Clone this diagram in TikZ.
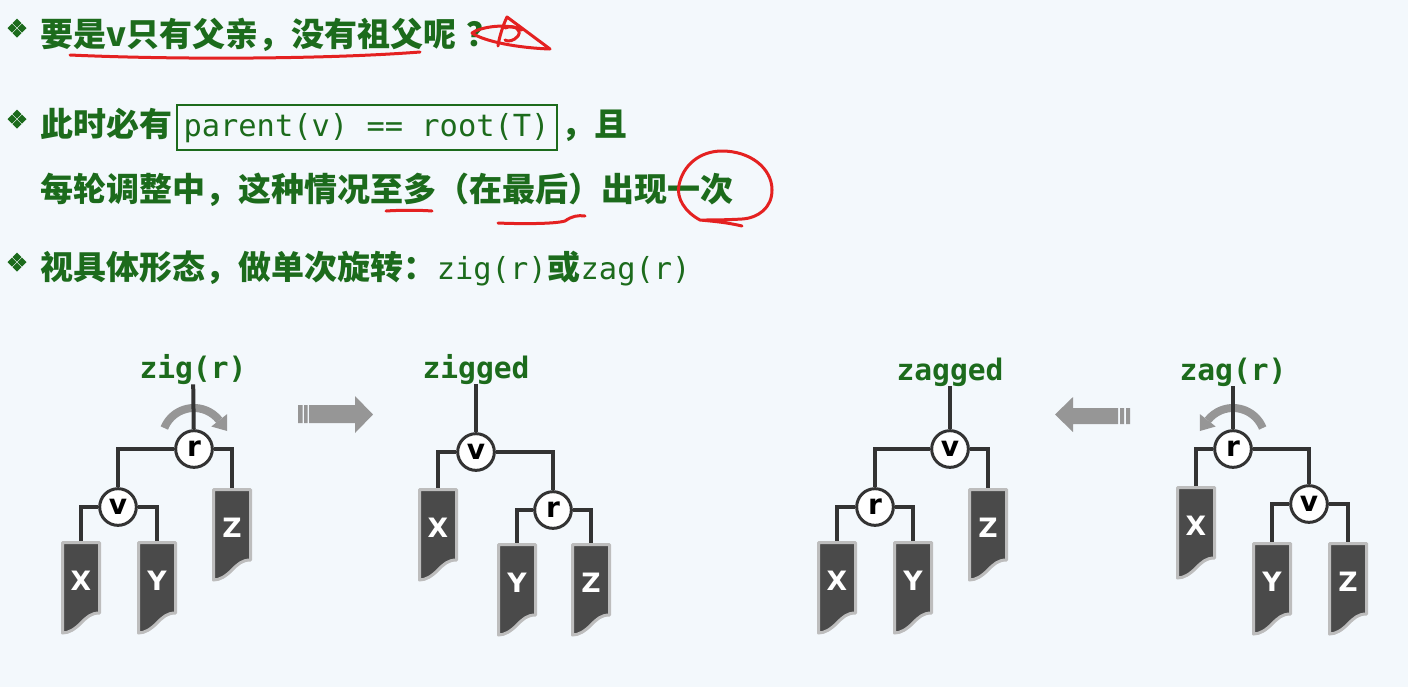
\documentclass[tikz,border=0pt]{standalone}
\usepackage{fontspec}
\newfontfamily\cjk{Noto Sans CJK SC}
\newfontfamily\mono{DejaVu Sans Mono}
\newfontfamily\lettr{DejaVu Sans}
\usetikzlibrary{positioning,arrows.meta}
\definecolor{bgblue}{HTML}{F3F8FC}
\definecolor{tgreen}{HTML}{1C6B1C}
\definecolor{treeline}{HTML}{333333}
\definecolor{stfill}{HTML}{4A4A4A}
\definecolor{stborder}{HTML}{BDBDBD}
\definecolor{rotgray}{HTML}{969696}
\definecolor{pen}{HTML}{E42121}
\tikzset{
	txt/.style={inner sep=0pt,text=tgreen,font=\cjk\bfseries\fontsize{24.75pt}{30pt}\selectfont},
	code/.style={inner sep=0pt,text=tgreen,font=\mono\fontsize{22.8pt}{26pt}\selectfont},
	codebox/.style={code,draw=tgreen,line width=1.5pt,minimum width=285pt,minimum height=33.75pt},
	oplabel/.style={inner sep=0pt,text=tgreen,font=\mono\bfseries\fontsize{22.2pt}{26pt}\selectfont},
	tnode/.style={circle,draw=treeline,line width=2.25pt,fill=white,minimum size=27.5pt,inner sep=0pt,font=\lettr\bfseries\fontsize{21pt}{21pt}\selectfont},
	edge/.style={draw=treeline,line width=3pt},
	subtree/.style={fill=stfill,draw=stborder,line width=2.25pt,line join=round},
	stletter/.style={inner sep=0pt,text=white,font=\lettr\bfseries\fontsize{20pt}{20pt}\selectfont},
	rot/.style={draw=rotgray,line width=6pt},
	ink/.style={draw=pen,line width=2.25pt,line cap=round,line join=round}
}
\newcommand\subtr[4]{%
	\draw[subtree] (#2+1.5,#3+1.5) -- (#2+38.5,#3+1.5) -- (#2+38.5,#3+72)
		.. controls (#2+30,#3+72) and (#2+26,#3+76) .. (#2+20,#3+82)
		.. controls (#2+14,#3+88) and (#2+8,#3+92) .. (#2+1.5,#3+92) -- cycle;
	\coordinate (#1) at (#2+20,#3);
	\node[stletter] (#1l) at (#2+20,#3+40) {#4};
}
\newcommand\bul[2]{%
	\foreach \dx/\dy in {-5/0,5/0,0/-5,0/5}
		\fill[tgreen] (#1+\dx,#2+\dy) +(-4.5,0) -- +(0,-4.5) -- +(4.5,0) -- +(0,4.5) -- cycle;
}
\begin{document}
\begin{tikzpicture}[x=0.75pt,y=-0.75pt]
	\path[fill=bgblue,use as bounding box] (0,0) rectangle (1408,687);
	% text
	\bul{17}{28}
	\node[txt,anchor=base west] (q1) at (40,46) {要是v只有父亲，没有祖父呢\hspace{8pt}？};
	\bul{17}{119}
	\node[txt,anchor=base west] (a1) at (40,136) {此时必有};
	\node[codebox,base right=2.25pt of a1] (cond) {parent(v) == root(T)};
	\node[txt,base right=3pt of cond] (a2) {，且};
	\node[txt,anchor=base west] (a3) at (40,201) {每轮调整中，这种情况至多（在最后）出现一次};
	\bul{17}{262}
	\node[txt,anchor=base west] (b1) at (40,279) {视具体形态，做单次旋转：};
	\node[code,base right=0pt of b1] (b2) {zig(r)};
	\node[txt,base right=0pt of b2] (b3) {或};
	\node[code,base right=0pt of b3] (b4) {zag(r)};
	% zig(r)
	\draw[rot] (194,440) ++(202:32) arc[start angle=202,end angle=322,radius=32];
	\fill[rotgray] (227.1,414.1) -- (227.2,431) -- (211.3,426.5) -- cycle;
	\node[oplabel,anchor=base] (lbl1) at (193,378) {zig(r)};
	\subtr{X1}{61}{541}{X}
	\subtr{Y1}{137}{541}{Y}
	\subtr{Z1}{212}{488}{Z}
	\node[tnode] (r1) at (194,449) {r};
	\node[tnode] (v1) at (118,507) {v};
	\draw[edge] (lbl1) -- (r1);
	\draw[edge] (r1.west) -| (v1.north);
	\draw[edge] (r1.east) -| (Z1);
	\draw[edge] (v1.west) -| (X1);
	\draw[edge] (v1.east) -| (Y1);
	\fill[rotgray] (309,405) -- (355,405) -- (355,396) -- (373,414.5) -- (355,433) -- (355,423) -- (309,423) -- cycle;
	\fill[rotgray] (298,405) rectangle (302.5,423) (304,405) rectangle (307.5,423);
	% zigged
	\node[oplabel,anchor=base] (lbl2) at (476,378) {zigged};
	\subtr{X2}{418}{488}{X}
	\subtr{Y2}{497}{543}{Y}
	\subtr{Z2}{571}{543}{Z}
	\node[tnode] (v2) at (476,452) {v};
	\node[tnode] (r2) at (553,510) {r};
	\draw[edge] (lbl2) -- (v2);
	\draw[edge] (v2.west) -| (X2);
	\draw[edge] (v2.east) -| (r2.north);
	\draw[edge] (r2.west) -| (Y2);
	\draw[edge] (r2.east) -| (Z2);
	% zagged
	\node[oplabel,anchor=base] (lbl3) at (950,380) {zagged};
	\subtr{X3}{817}{541}{X}
	\subtr{Y3}{893}{541}{Y}
	\subtr{Z3}{968}{488}{Z}
	\node[tnode] (v3) at (950,449) {v};
	\node[tnode] (r3) at (875,507) {r};
	\draw[edge] (lbl3) -- (v3);
	\draw[edge] (v3.west) -| (r3.north);
	\draw[edge] (v3.east) -| (Z3);
	\draw[edge] (r3.west) -| (X3);
	\draw[edge] (r3.east) -| (Y3);
	% zag(r)
	\fill[rotgray] (1118,408) -- (1073,408) -- (1073,397) -- (1055,414.5) -- (1073,432) -- (1073,424) -- (1118,424) -- cycle;
	\fill[rotgray] (1120,408) rectangle (1124,424) (1126,408) rectangle (1130,424);
	\draw[rot] (1233,440) ++(338:32) arc[start angle=338,end angle=218,radius=32];
	\fill[rotgray] (1199.9,414.1) -- (1199.8,431) -- (1215.7,426.5) -- cycle;
	\node[oplabel,anchor=base] (lbl4) at (1233,380) {zag(r)};
	\subtr{X4}{1176}{486}{X}
	\subtr{Y4}{1252}{542}{Y}
	\subtr{Z4}{1328}{542}{Z}
	\node[tnode] (r4) at (1233,449) {r};
	\node[tnode] (v4) at (1309,504) {v};
	\draw[edge] (lbl4) -- (r4);
	\draw[edge] (r4.west) -| (X4);
	\draw[edge] (r4.east) -| (v4.north);
	\draw[edge] (v4.west) -| (Y4);
	\draw[edge] (v4.east) -| (Z4);
	% pen marks
	\draw[ink] (70,55) .. controls (180,60) and (330,59) .. (420,52);
	\draw[ink] (522,30) .. controls (505,22) and (478,28) .. (472,33) .. controls (485,42) and (520,48) .. (550,49) -- (507,17) .. controls (503,25) and (499,38) .. (498,46);
	\draw[ink] (505,28) .. controls (515,24) and (522,30) .. (518,36) .. controls (514,41) and (508,42) .. (505,40);
	\draw[ink] (386,211) .. controls (400,210) and (420,210) .. (432,211);
	\draw[ink] (498,223) .. controls (520,224) and (555,224) .. (565,221) .. controls (572,216) and (578,215) .. (585,216);
	\draw[ink] (742,226) .. controls (725,222) and (710,221) .. (700,220) .. controls (685,212) and (676,198) .. (679,185) .. controls (683,165) and (700,151) .. (722,151) .. controls (750,151) and (772,168) .. (772,190) .. controls (772,208) and (758,218) .. (742,219) .. controls (725,220) and (710,220) .. (700,220);
\end{tikzpicture}
\end{document}
